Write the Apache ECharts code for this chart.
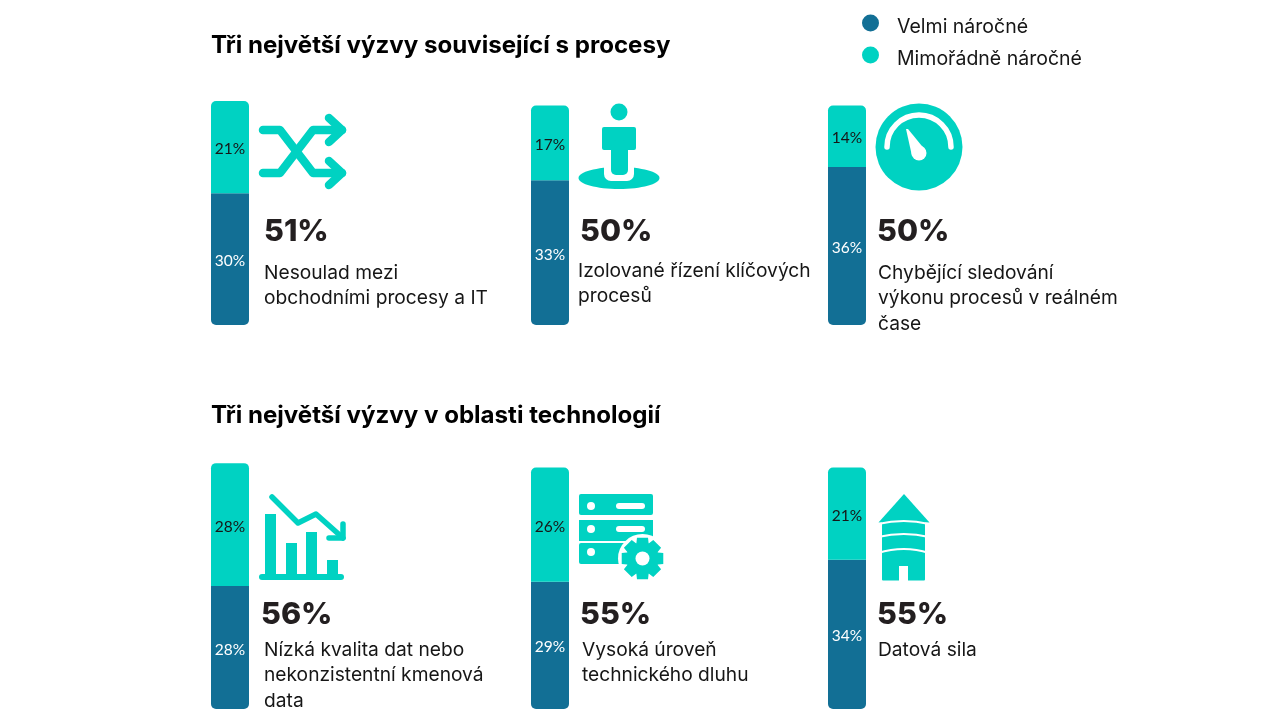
<!DOCTYPE html>
<html><head><meta charset="utf-8">
<style>html,body{margin:0;padding:0;background:#fff}#c{width:1280px;height:720px}</style>
<script src="https://cdn.jsdelivr.net/npm/echarts@6/dist/echarts.min.js"></script>
</head><body><div id="c"></div>
<script>
// ---- data ----
const categories = ['Nesoulad mezi obchodními procesy a IT','Izolované řízení klíčových procesů','Chybějící sledování výkonu procesů v reálném čase','Nízká kvalita dat nebo nekonzistentní kmenová data','Vysoká úroveň technického dluhu','Datová sila'];
const seriesNames = ['Velmi náročné','Mimořádně náročné'];
const veryDemanding = [30,33,36,28,29,34];
const extremelyDemanding = [21,17,14,28,26,21];
const totals = ['51%','50%','50%','56%','55%','55%'];
const captionLines = [
  ['Nesoulad mezi','obchodními procesy a IT'],
  ['Izolované řízení klíčových','procesů'],
  ['Chybějící sledování','výkonu procesů v reálném','čase'],
  ['Nízká kvalita dat nebo','nekonzistentní kmenová','data'],
  ['Vysoká úroveň','technického dluhu'],
  ['Datová sila']
];
const headings = ['Tři největší výzvy související s procesy','Tři největší výzvy v oblasti technologií'];

// ---- layout & style (separate from data) ----
const TEAL='#00D2C2', BLUE='#126F95', INK='#161616';
const FONT='Inter', NUMFONT='Inter';
const barLeft=[211,531,828,211,531,828], barBottom=[325,325,325,709,709,709];
const pxPerUnit=4.39, axisMax=60, barW=38;
const totalPos=[[264,232],[580,232],[877,232],[261,615],[580,615],[877,615]];
const capPos=[[264,273],[578,271],[878,273],[264,650],[582,650],[878,650]];
const headPos=[[211,46],[211,416]];

const grid=[],xAxis=[],yAxis=[],series=[];
categories.forEach((cat,i)=>{
  grid.push({left:barLeft[i],width:barW,top:barBottom[i]-axisMax*pxPerUnit,height:axisMax*pxPerUnit,containLabel:false});
  xAxis.push({type:'category',gridIndex:i,data:[cat],show:false});
  yAxis.push({type:'value',gridIndex:i,min:0,max:axisMax,show:false});
  const mk=(name,val,color,radius,lab)=>({
    name,type:'bar',stack:'s'+i,xAxisIndex:i,yAxisIndex:i,barWidth:barW,data:[val],
    itemStyle:{color,borderRadius:radius},
    label:{show:true,position:'inside',offset:[0,2],formatter:'{c}%',color:lab,fontFamily:'Lato',fontSize:15.5}
  });
  series.push(mk(seriesNames[0],veryDemanding[i],BLUE,[0,0,5,5],'#fff'));
  series.push(mk(seriesNames[1],extremelyDemanding[i],TEAL,[5,5,0,0],INK));
});

// ---- text as graphic ----
const g=[];
const text=(x,y,t,font,size,weight,color)=>g.push({type:'text',x,y,style:{text:t,fontFamily:font,fontSize:size,fontWeight:weight,fill:color,textVerticalAlign:'middle',textBaseline:'middle'}});
headings.forEach((h,i)=>text(headPos[i][0],headPos[i][1],h,FONT,24.1,700,'#000'));
totals.forEach((t,i)=>text(totalPos[i][0],totalPos[i][1],t,NUMFONT,30.5,800,'#231F20'));
captionLines.forEach((ls,i)=>ls.forEach((l,j)=>text(capPos[i][0],capPos[i][1]+j*25.5,l,FONT,19.2,400,INK)));

// ---- icons (primitives) ----
const poly=(pts,fill,z)=>g.push({type:'polygon',z:z||5,shape:{points:pts},style:{fill:fill||TEAL}});
const pline=(pts,w,color,z)=>g.push({type:'polyline',z:z||5,shape:{points:pts},style:{fill:null,stroke:color||TEAL,lineWidth:w,lineCap:'round',lineJoin:'round'}});
const circ=(cx,cy,r,fill,z)=>g.push({type:'circle',z:z||5,shape:{cx,cy,r},style:{fill:fill||TEAL}});
const rect=(x,y,width,height,r,fill,z)=>g.push({type:'rect',z:z||5,shape:{x,y,width,height,r:r||0},style:{fill:fill||TEAL}});
const curve=(x1,y1,cx,cy,x2,y2,w,color,z)=>g.push({type:'bezierCurve',z:z||5,shape:{x1,y1,x2,y2,cpx1:cx,cpy1:cy},style:{fill:null,stroke:color,lineWidth:w}});

// shuffle
pline([[263,130],[280,130],[313,173],[342,173]],8.5);
pline([[263,173],[280,173],[313,130],[342,130]],8.5);
pline([[329,118],[342,130],[329,142]],8.5);
pline([[329,161],[342,173],[329,185]],8.5);
// person on map
g.push({type:'ellipse',z:5,shape:{cx:619,cy:178,rx:40.5,ry:11},style:{fill:TEAL}});
rect(604,160,30,21,7,'#fff',6);
circ(619,112,8.5,TEAL,7);
rect(602,127,34,23,2,TEAL,7);
rect(611,140,17,35,5,TEAL,7);
// gauge
circ(919,147,43.5);
g.push({type:'arc',z:6,shape:{cx:919,cy:147,r:32,startAngle:Math.PI,endAngle:2*Math.PI,clockwise:true},style:{fill:null,stroke:'#fff',lineWidth:5.5,lineCap:'round'}});
poly([[906,129],[908,129],[926,151],[912,156]],'#fff',6);
circ(919,153,7.5,'#fff',6);
// falling chart
pline([[262,577],[341,577]],6);
rect(265,514,11,61);rect(286,543,11,32);rect(306,532,11,43);rect(327,560,11,15);
pline([[272,497],[298,523],[316,514],[343,538]],5.5);
pline([[343,524],[343,538],[329,538]],5.5);
// servers + gear
rect(579,494,74,21,2);rect(579,520,74,21,0);rect(579,543,60,21,2);
[506,529,552].forEach(y=>circ(591,y,4,'#fff',6));
rect(616,503,29,6,3,'#fff',6);rect(616,526,29,6,3,'#fff',6);
circ(642.5,558.5,24.5,'#fff',7);
const gear=[];const gx=642.5,gy=558.5;
for(let k=0;k<8;k++){const a=k*Math.PI/4-Math.PI/2;
  [[-0.38,16.5],[-0.26,21.5],[0.26,21.5],[0.38,16.5]].forEach(([da,r])=>gear.push([gx+r*Math.cos(a+da),gy+r*Math.sin(a+da)]));}
poly(gear,TEAL,8);
circ(642.5,558.5,7,'#fff',9);
// silo
poly([[904,494],[929.5,522.5],[878.5,522.5]]);
rect(882,520,43,60.5,1);
rect(899,566,9,15,0,'#fff',6);
curve(878,524,904,518,929,524,2.2,'#fff',6);
curve(878,537,904,531,929,537,2.2,'#fff',6);
curve(878,553,904,545,929,553,2.2,'#fff',6);

const chart=echarts.init(document.getElementById('c'),null,{renderer:'canvas'});
chart.setOption({
  animation:false,backgroundColor:'#fff',
  legend:{data:seriesNames,orient:'vertical',left:857,top:9.5,icon:'circle',itemWidth:17,itemHeight:17,itemGap:9,selectedMode:false,
    formatter:n=>'{a|'+n+'}',
    textStyle:{rich:{a:{fontFamily:FONT,fontSize:19.5,color:INK,padding:[9,0,0,13]}}}},
  grid,xAxis,yAxis,series,graphic:{elements:g}
});
</script></body></html>
